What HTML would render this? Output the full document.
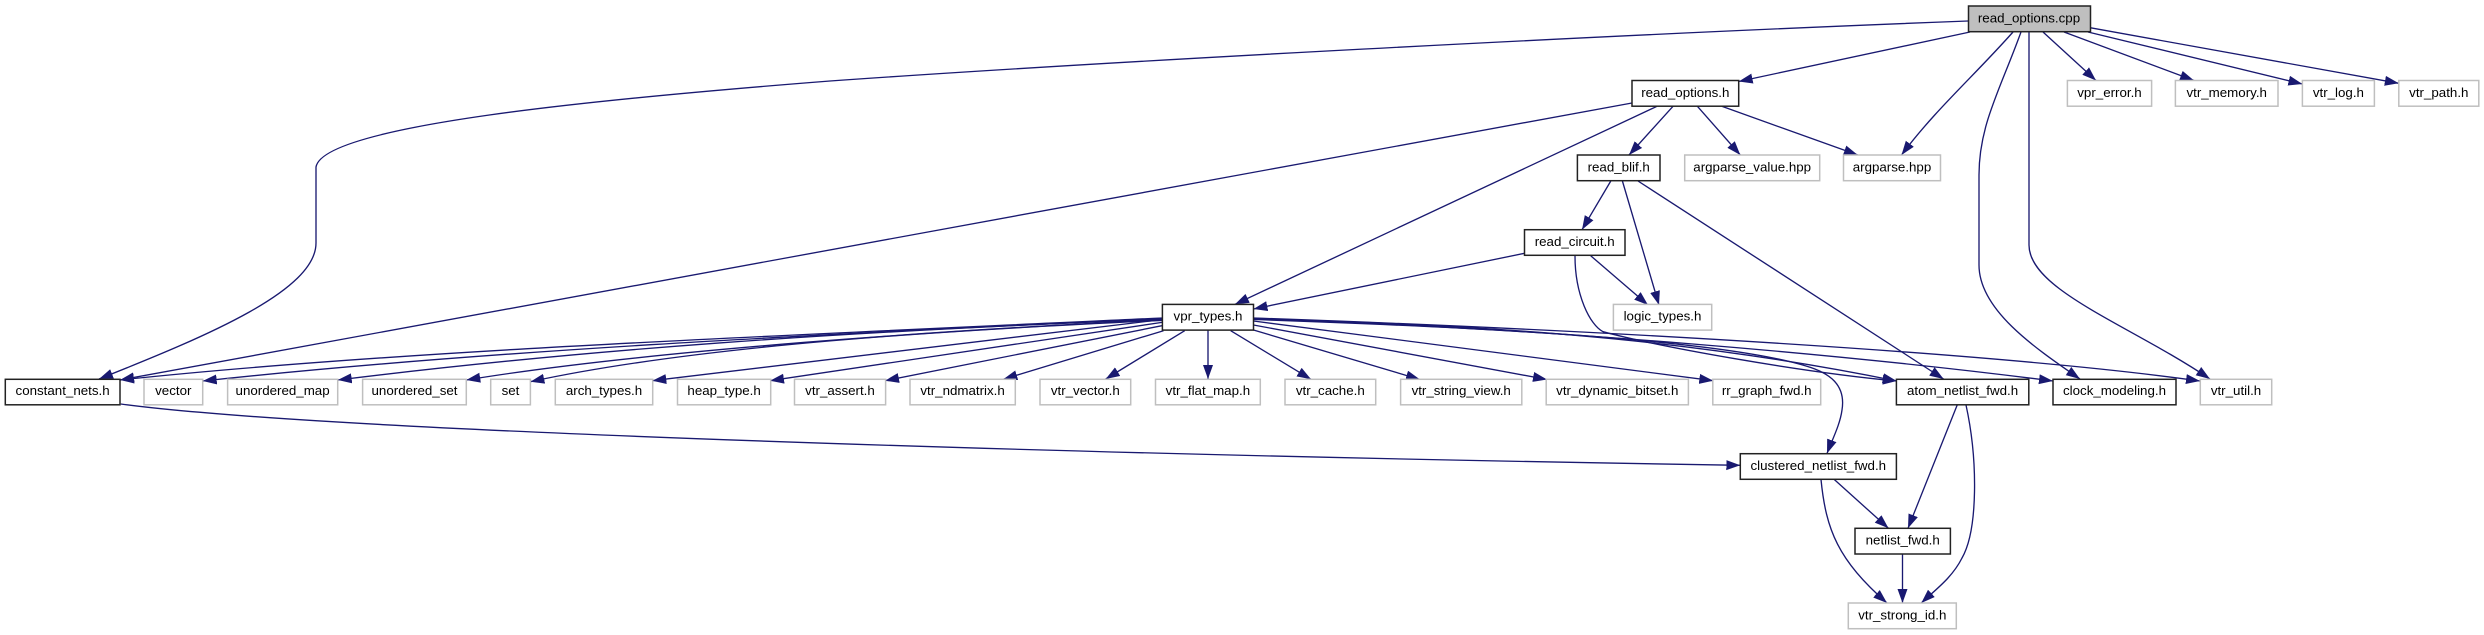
<!DOCTYPE html>
<html><head><meta charset="utf-8"><title>read_options.cpp</title>
<style>
html,body{margin:0;padding:0;background:#fff;width:2484px;height:635px;overflow:hidden}
svg{display:block}
text{font-family:"Liberation Sans",Arial,sans-serif;font-size:13.33px;fill:#000;text-anchor:middle}
.k{fill:#fff;stroke:#222;stroke-width:1.5}
.g{fill:#fff;stroke:#bfbfbf;stroke-width:1.5}
.e path{fill:none;stroke:#191970;stroke-width:1.33;marker-end:url(#a)}
</style></head><body>
<svg width="2484" height="635" viewBox="0 0 2484 635" xmlns="http://www.w3.org/2000/svg">
<defs><marker id="a" markerUnits="userSpaceOnUse" markerWidth="16" markerHeight="12" refX="14" refY="5" orient="auto"><polygon points="0,0 14,5 0,10" fill="#191970"/></marker></defs>
<g class="e">
<path d="M1968,21 C1600,35 1100,62 830,81 C600,99 323,125 316,167 L316,243 C316,290 210,335 99,379"/>
<path d="M1970,32 L1738.7,81.5"/>
<path d="M2013,32 C1975,75 1935,110 1901.5,155"/>
<path d="M2021,32 C2000,90 1979,125 1979,175 L1979,265 C1979,310 2035,348 2080,379"/>
<path d="M2029,32 L2029,245 C2029,290 2130,325 2210,379"/>
<path d="M2043,32 L2096,80.5"/>
<path d="M2064,32 L2194,80.5"/>
<path d="M2088,32 L2302.4,84"/>
<path d="M2090,27.7 L2398.8,83.3"/>
<path d="M1632,103 L120,380"/>
<path d="M1657,106.3 L1235,304.3"/>
<path d="M1673,106.3 L1629,155"/>
<path d="M1697.4,106.3 L1740.3,155"/>
<path d="M1721.8,106.3 L1857.8,155"/>
<path d="M1610.8,181 L1582,229.7"/>
<path d="M1622.4,181 L1659,305"/>
<path d="M1638,181 L1943.6,379"/>
<path d="M1524.5,253.3 L1253.5,309"/>
<path d="M1590.7,255.7 L1648,305"/>
<path d="M1575,256 C1575,295 1590,325 1603,331.7 C1660,347 1800,372 1896.7,381"/>
<path d="M1162,318 C800,335 400,350 120,380"/>
<path d="M1162,318.7 C800,335 480,351 202.7,381"/>
<path d="M1162,319.3 C830,332 580,350 337.7,380"/>
<path d="M1162,319.8 C950,330 650,350 466.3,380"/>
<path d="M1162,320.4 C950,330 700,345 530.4,381.7"/>
<path d="M1162,319.6 L652.3,380.7"/>
<path d="M1162,322.4 L770,380.7"/>
<path d="M1162,325.7 L885,380.7"/>
<path d="M1163.5,330.7 L1003.3,379.3"/>
<path d="M1184.7,330.7 L1105.7,379"/>
<path d="M1208,330 L1208,379"/>
<path d="M1230.7,330.7 L1311,379.3"/>
<path d="M1253.5,330 L1420,379.5"/>
<path d="M1253.5,325 L1547,379.5"/>
<path d="M1253.5,321 L1713.3,380.7"/>
<path d="M1253.5,318 C1600,330 2000,353 2200,381"/>
<path d="M1253.5,319 C1550,328 1850,355 2053,381"/>
<path d="M1253.5,319 C1530,325 1720,345 1896.7,381"/>
<path d="M1253.5,319.5 C1500,328 1720,340 1806,366 C1830,373 1846,385 1842,410 C1840,425 1832,440 1827,453.5"/>
<path d="M120.7,404 C330,432 1100,455 1740.3,465.3"/>
<path d="M1957.3,404.7 L1908,528.3"/>
<path d="M1966,405 C1978,460 1978,530 1962,558 C1952,578 1935,590 1921.3,603"/>
<path d="M1834,479.3 L1888.5,528.3"/>
<path d="M1821,479.5 C1826,530 1838,560 1887,603"/>
<path d="M1902.5,554 L1902.5,603"/>
</g>
<rect x="1968.5" y="6" width="122" height="25.7" fill="#bfbfbf" stroke="#222" stroke-width="1.5"/><text x="2029" y="22.3">read_options.cpp</text>
<rect class="k" x="1632" y="80.5" width="106.7" height="25.7"/><text x="1685.3" y="97">read_options.h</text>
<rect class="g" x="2067.4" y="80.5" width="84.2" height="25.7"/><text x="2109.5" y="97">vpr_error.h</text>
<rect class="g" x="2175.4" y="80.5" width="102.6" height="25.7"/><text x="2226.7" y="97">vtr_memory.h</text>
<rect class="g" x="2302.4" y="80.5" width="72" height="25.7"/><text x="2338.4" y="97">vtr_log.h</text>
<rect class="g" x="2398.8" y="80.5" width="80" height="25.7"/><text x="2438.8" y="97">vtr_path.h</text>
<rect class="k" x="1577.4" y="155" width="82.6" height="25.7"/><text x="1618.7" y="171.5">read_blif.h</text>
<rect class="g" x="1684.7" y="155" width="135" height="25.7"/><text x="1752.2" y="171.5">argparse_value.hpp</text>
<rect class="g" x="1843.5" y="155" width="97" height="25.7"/><text x="1892" y="171.5">argparse.hpp</text>
<rect class="k" x="1524.5" y="229.7" width="100.5" height="25.6"/><text x="1574.7" y="246">read_circuit.h</text>
<rect class="k" x="1162.4" y="304.4" width="91.1" height="25.7"/><text x="1208" y="320.5">vpr_types.h</text>
<rect class="g" x="1613.4" y="304.4" width="98.3" height="25.7"/><text x="1662.5" y="320.5">logic_types.h</text>
<rect class="k" x="5.3" y="379.3" width="114.7" height="25.5"/><text x="62.6" y="395">constant_nets.h</text>
<rect class="g" x="144" y="379.3" width="58.7" height="25.5"/><text x="173.3" y="395">vector</text>
<rect class="g" x="227.6" y="379.3" width="110.1" height="25.5"/><text x="282.6" y="395">unordered_map</text>
<rect class="g" x="362.6" y="379.3" width="103.7" height="25.5"/><text x="414.5" y="395">unordered_set</text>
<rect class="g" x="490.7" y="379.3" width="39.7" height="25.5"/><text x="510.5" y="395">set</text>
<rect class="g" x="555.3" y="379.3" width="97.4" height="25.5"/><text x="604" y="395">arch_types.h</text>
<rect class="g" x="677.5" y="379.3" width="93.2" height="25.5"/><text x="724.1" y="395">heap_type.h</text>
<rect class="g" x="794.5" y="379.3" width="91.1" height="25.5"/><text x="840" y="395">vtr_assert.h</text>
<rect class="g" x="910" y="379.3" width="105.3" height="25.5"/><text x="962.6" y="395">vtr_ndmatrix.h</text>
<rect class="g" x="1040" y="379.3" width="90.7" height="25.5"/><text x="1085.3" y="395">vtr_vector.h</text>
<rect class="g" x="1155.5" y="379.3" width="104.8" height="25.5"/><text x="1207.9" y="395">vtr_flat_map.h</text>
<rect class="g" x="1285" y="379.3" width="90.7" height="25.5"/><text x="1330.3" y="395">vtr_cache.h</text>
<rect class="g" x="1400.6" y="379.3" width="121.2" height="25.5"/><text x="1461.2" y="395">vtr_string_view.h</text>
<rect class="g" x="1546.2" y="379.3" width="142.2" height="25.5"/><text x="1617.3" y="395">vtr_dynamic_bitset.h</text>
<rect class="g" x="1712.8" y="379.3" width="107.9" height="25.5"/><text x="1766.7" y="395">rr_graph_fwd.h</text>
<rect class="k" x="1896.4" y="379.3" width="132.4" height="25.5"/><text x="1962.6" y="395">atom_netlist_fwd.h</text>
<rect class="k" x="2053" y="379.3" width="123" height="25.5"/><text x="2114.5" y="395">clock_modeling.h</text>
<rect class="g" x="2200.3" y="379.3" width="71.4" height="25.5"/><text x="2236" y="395">vtr_util.h</text>
<rect class="k" x="1740.3" y="453.7" width="156.1" height="25.6"/><text x="1818.3" y="470">clustered_netlist_fwd.h</text>
<rect class="k" x="1855" y="528.3" width="95.4" height="25.7"/><text x="1902.7" y="544.5">netlist_fwd.h</text>
<rect class="g" x="1848.3" y="603" width="108" height="25.7"/><text x="1902.3" y="619.5">vtr_strong_id.h</text>
</svg>
</body></html>
